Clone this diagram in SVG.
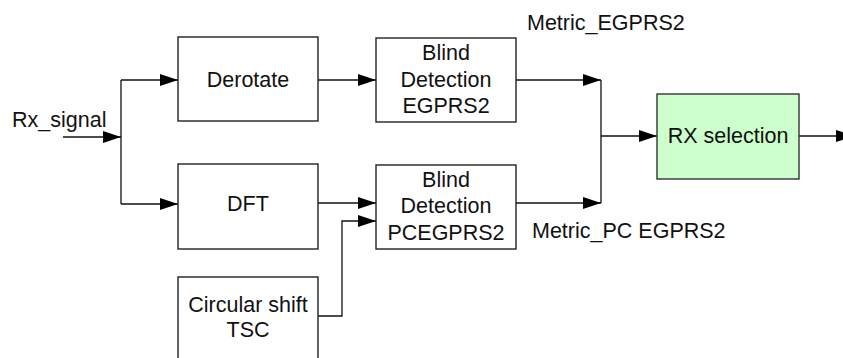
<svg xmlns="http://www.w3.org/2000/svg" width="843" height="358" viewBox="0 0 843 358">
  <style>
    .box { fill: #ffffff; stroke: #222222; stroke-width: 1.4; }
    .sel { fill: #ccffcc; stroke: #333333; stroke-width: 1.4; }
    .wire { fill: none; stroke: #111111; stroke-width: 1.3; }
    .lbl { font-family: "Liberation Sans", Arial, sans-serif; font-size: 21.5px; fill: #111111; }
    .mid { text-anchor: middle; }
  </style>
  <defs>
    <marker id="arrow" markerUnits="userSpaceOnUse" markerWidth="18" markerHeight="12" refX="18" refY="6" orient="auto">
      <path d="M0,0 L18,6 L0,12 Z" fill="#000000"/>
    </marker>
  </defs>
  <rect width="843" height="358" fill="#ffffff"/>

  <g id="connectors">
    <!-- input and fan-out -->
    <path class="wire" d="M63,137 H121" marker-end="url(#arrow)"/>
    <path class="wire" d="M121,80 V204"/>
    <path class="wire" d="M121,80 H178" marker-end="url(#arrow)"/>
    <path class="wire" d="M121,204 H178" marker-end="url(#arrow)"/>
    <!-- into the detectors -->
    <path class="wire" d="M318,80 H376" marker-end="url(#arrow)"/>
    <path class="wire" d="M318,203 H376" marker-end="url(#arrow)"/>
    <path class="wire" d="M318,316 H342 V221 H376" marker-end="url(#arrow)"/>
    <!-- detector outputs merge -->
    <path class="wire" d="M516,80 H601" marker-end="url(#arrow)"/>
    <path class="wire" d="M516,203 H601" marker-end="url(#arrow)"/>
    <path class="wire" d="M601,80 V203"/>
    <path class="wire" d="M601,136 H657" marker-end="url(#arrow)"/>
    <!-- output -->
    <path class="wire" d="M799,136 H854" marker-end="url(#arrow)"/>
  </g>

  <text class="lbl" x="12" y="127">Rx_signal</text>
  <text class="lbl" x="527" y="30">Metric_EGPRS2</text>
  <text class="lbl" x="532" y="238">Metric_PC EGPRS2</text>

  <g id="derotate">
    <rect class="box" x="178" y="37" width="140" height="84"/>
    <text class="lbl mid" x="248" y="87">Derotate</text>
  </g>

  <g id="dft">
    <rect class="box" x="178" y="164" width="140" height="85"/>
    <text class="lbl mid" x="248" y="211">DFT</text>
  </g>

  <g id="circular-shift">
    <rect class="box" x="178" y="277" width="140" height="100"/>
    <text class="lbl mid" x="248" y="312">Circular shift</text>
    <text class="lbl mid" x="248" y="337">TSC</text>
  </g>

  <g id="blind-egprs2">
    <rect class="box" x="376" y="38" width="140" height="84"/>
    <text class="lbl mid" x="446" y="60">Blind</text>
    <text class="lbl mid" x="446" y="87">Detection</text>
    <text class="lbl mid" x="446" y="113">EGPRS2</text>
  </g>

  <g id="blind-pcegprs2">
    <rect class="box" x="376" y="165" width="140" height="84"/>
    <text class="lbl mid" x="446" y="187">Blind</text>
    <text class="lbl mid" x="446" y="213">Detection</text>
    <text class="lbl mid" x="446" y="240">PCEGPRS2</text>
  </g>

  <g id="rx-selection">
    <rect class="sel" x="657" y="94" width="142" height="85"/>
    <text class="lbl mid" x="728" y="143">RX selection</text>
  </g>
</svg>
